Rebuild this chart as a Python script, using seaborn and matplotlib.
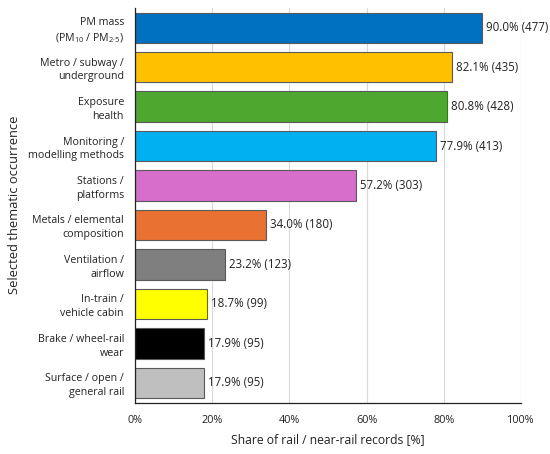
import pandas as pd
import matplotlib.pyplot as plt
import seaborn as sns

# Chart data
categories = [
    'PM mass\n(PM$_\\mathregular{10}$ / PM$_\\mathregular{2\u00b75}$)',
    'Metro / subway /\nunderground',
    'Exposure\nhealth',
    'Monitoring /\nmodelling methods',
    'Stations /\nplatforms',
    'Metals / elemental\ncomposition',
    'Ventilation /\nairflow',
    'In-train /\nvehicle cabin',
    'Brake / wheel-rail\nwear',
    'Surface / open /\ngeneral rail',
]
shares = [90.0, 82.1, 80.8, 77.9, 57.2, 34.0, 23.2, 18.7, 17.9, 17.9]
counts = [477, 435, 428, 413, 303, 180, 123, 99, 95, 95]
colors = ['#0070C0', '#FFC000', '#4EA72E', '#00B0F0', '#D86ECC',
          '#E97132', '#7F7F7F', '#FFFF00', '#000000', '#BFBFBF']
x_ticks = [0, 20, 40, 60, 80, 100]

df = pd.DataFrame({'category': categories, 'share': shares, 'count': counts})

sns.set_style('white')
plt.rcParams['font.family'] = ['Open Sans', 'DejaVu Sans']
plt.rcParams['mathtext.fontset'] = 'custom'
plt.rcParams['mathtext.rm'] = 'Open Sans'

fig = plt.figure(figsize=(5.5, 4.54), dpi=100)
ax = fig.add_axes([0.2455, 0.1134, 0.7015, 0.869])

sns.barplot(data=df, y='category', x='share', hue='category', palette=colors,
            orient='h', width=0.77, saturation=1, edgecolor='#5a5a5a',
            linewidth=0.8, legend=False, ax=ax)

# value labels at the end of each bar
for container, s, c in zip(ax.containers, shares, counts):
    ax.bar_label(container, labels=[f'{s:.1f}% ({c})'], padding=3,
                 fontsize=8.3, color='#222222')

ax.set_xlim(0, 100)
ax.set_ylim(9.5, -0.5)
ax.set_xticks(x_ticks)
ax.set_xticklabels([f'{t}%' for t in x_ticks])
ax.xaxis.grid(True, color='#d9d9d9', linewidth=0.8)
ax.set_axisbelow(True)

for side in ['top', 'right']:
    ax.spines[side].set_visible(False)
for side in ['left', 'bottom']:
    ax.spines[side].set_color('#222222')
    ax.spines[side].set_linewidth(0.9)

ax.tick_params(axis='x', direction='out', length=3, width=0.8, color='#222222',
               labelsize=7.8, labelcolor='#222222', pad=6)
ax.tick_params(axis='y', length=0, labelsize=7.7, labelcolor='#222222', pad=8)
for lbl in ax.get_yticklabels():
    lbl.set_horizontalalignment('right')
    lbl.set_linespacing(1.35)

ax.set_xlabel('Share of rail / near-rail records [%]', fontsize=8.7, color='#222222', labelpad=5)
ax.set_ylabel('Selected thematic occurrence', fontsize=9.3, color='#222222')
ax.yaxis.set_label_coords(-0.295, 0.5)

fig.savefig('out.png', dpi=100)
